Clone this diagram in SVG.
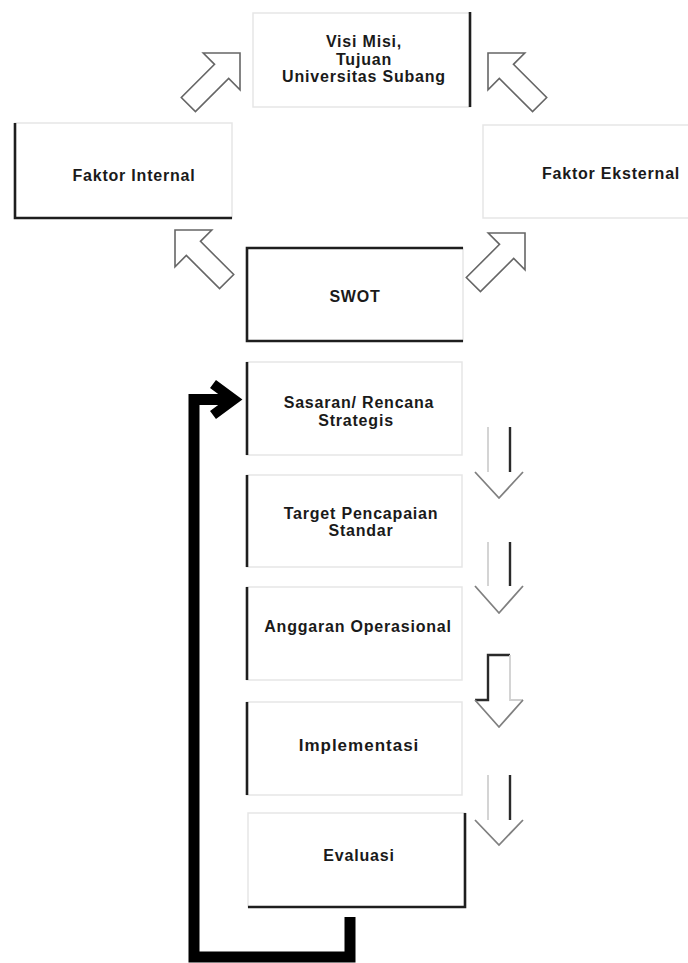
<svg xmlns="http://www.w3.org/2000/svg" width="688" height="963" viewBox="0 0 688 963">
<style>
  .t { font-family: "Liberation Sans", Arial, sans-serif; font-weight: bold; font-size: 16px; letter-spacing: 0.8px; fill: #1a1a1a; text-anchor: middle; }
  .faint { fill: none; stroke: #e6e6e6; stroke-width: 1.5; }
  .dark { fill: none; stroke: #1e1e1e; stroke-width: 2.6; }
  .blk { fill: none; stroke: #000; stroke-width: 11; stroke-linejoin: miter; stroke-linecap: butt; }
  .diag { fill: #fff; stroke: #666; stroke-width: 1.6; stroke-linejoin: miter; }
  .sl { stroke: #d0d0d0; stroke-width: 1.8; fill: none; }
  .sd { stroke: #2a2a2a; stroke-width: 2.4; fill: none; }
  .hd { stroke: #808080; stroke-width: 1.8; fill: none; }
</style>
<defs>
  <polygon id="blockArrow" points="0,0 -26,-26 -26,-10 -73,-10 -73,10 -26,10 -26,26"/>
</defs>
<rect width="688" height="963" fill="#fff"/>

<g id="visi">
  <rect class="faint" x="253" y="13" width="217" height="94"/>
  <line class="dark" x1="470" y1="12" x2="470" y2="107"/>
  <text class="t" x="364" y="47">Visi Misi,</text>
  <text class="t" x="364" y="65">Tujuan</text>
  <text class="t" x="364" y="82">Universitas Subang</text>
</g>

<g id="faktor-internal">
  <rect class="faint" x="15" y="123" width="217" height="95"/>
  <polyline class="dark" points="15,123 15,218 232,218"/>
  <text class="t" x="134" y="181">Faktor Internal</text>
</g>

<g id="faktor-eksternal">
  <rect class="faint" x="483" y="125" width="220" height="93"/>
  <text class="t" x="611" y="179">Faktor Eksternal</text>
</g>

<g id="swot">
  <rect class="faint" x="247" y="248" width="216" height="93"/>
  <polyline class="dark" points="463,248 247,248 247,341 463,341"/>
  <text class="t" x="355" y="302">SWOT</text>
</g>

<g id="sasaran">
  <rect class="faint" x="247" y="362" width="215" height="93"/>
  <line class="dark" x1="247" y1="362" x2="247" y2="455"/>
  <text class="t" x="359" y="408">Sasaran/ Rencana</text>
  <text class="t" x="356" y="426">Strategis</text>
</g>

<g id="target">
  <rect class="faint" x="247" y="475" width="215" height="92"/>
  <line class="dark" x1="247" y1="475" x2="247" y2="567"/>
  <text class="t" x="361" y="519">Target Pencapaian</text>
  <text class="t" x="361" y="536">Standar</text>
</g>

<g id="anggaran">
  <rect class="faint" x="247" y="587" width="215" height="93"/>
  <line class="dark" x1="247" y1="587" x2="247" y2="680"/>
  <text class="t" x="358" y="632">Anggaran Operasional</text>
</g>

<g id="implementasi">
  <rect class="faint" x="247" y="702" width="215" height="93"/>
  <line class="dark" x1="247" y1="702" x2="247" y2="795"/>
  <text class="t" x="359" y="751" style="font-size:17px;letter-spacing:1px">Implementasi</text>
</g>

<g id="evaluasi">
  <rect class="faint" x="248" y="813" width="217" height="94"/>
  <polyline class="dark" points="465,813 465,907 248,907"/>
  <text class="t" x="359" y="861">Evaluasi</text>
</g>

<g id="connectors">
  <!-- diagonal block arrows -->
  <use href="#blockArrow" class="diag" transform="translate(240,53) rotate(-45)"/>
  <use href="#blockArrow" class="diag" transform="translate(488,53) scale(-1,1) rotate(-45)"/>
  <use href="#blockArrow" class="diag" transform="translate(175,230) scale(-1,1) rotate(-45)"/>
  <use href="#blockArrow" class="diag" transform="translate(525,233) rotate(-45)"/>

  <!-- down arrows -->
  <line class="sl" x1="488" y1="427" x2="488" y2="472"/>
  <line class="sd" x1="510" y1="427" x2="510" y2="472"/>
  <polyline class="hd" points="475,472 499,498 523,472"/>

  <line class="sl" x1="488" y1="542" x2="488" y2="586"/>
  <line class="sd" x1="510" y1="542" x2="510" y2="586"/>
  <polyline class="hd" points="475,586 499,613 523,586"/>

  <polyline class="sd" points="475,700 488,700 488,655 510,655"/>
  <polyline class="sl" points="510,655 510,700 523,700"/>
  <polyline class="hd" points="475,700 499,727 523,700"/>

  <line class="sl" x1="488" y1="775" x2="488" y2="820"/>
  <line class="sd" x1="510" y1="775" x2="510" y2="820"/>
  <polyline class="hd" points="475,820 499,845 523,820"/>

  <!-- thick feedback loop -->
  <path class="blk" d="M350,917 V957 H194 V399.5 H230"/>
  <polyline class="blk" style="stroke-width:10" points="213,384 234,399.5 213,415"/>
</g>
</svg>
